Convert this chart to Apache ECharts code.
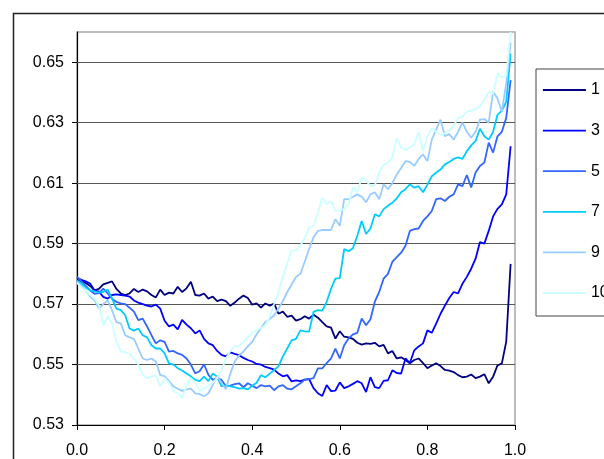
<!DOCTYPE html>
<html>
<head>
<meta charset="utf-8">
<script src="https://cdn.jsdelivr.net/npm/echarts@6/dist/echarts.min.js"></script>
<style>html,body{margin:0;padding:0;background:#fff}#c{width:604px;height:459px}</style>
</head>
<body>
<div id="c"></div>
<script>
const seriesNames = ["1", "3", "5", "7", "9", "10"];
const seriesColors = ["#000080", "#0000FF", "#3366FF", "#00CCFF", "#99CCFF", "#CCFFFF"];
const xValues = [0.00,0.01,0.02,0.03,0.04,0.05,0.06,0.07,0.08,0.09,0.10,0.11,0.12,0.13,0.14,0.15,0.16,0.17,0.18,0.19,0.20,0.21,0.22,0.23,0.24,0.25,0.26,0.27,0.28,0.29,0.30,0.31,0.32,0.33,0.34,0.35,0.36,0.37,0.38,0.39,0.40,0.41,0.42,0.43,0.44,0.45,0.46,0.47,0.48,0.49,0.50,0.51,0.52,0.53,0.54,0.55,0.56,0.57,0.58,0.59,0.60,0.61,0.62,0.63,0.64,0.65,0.66,0.67,0.68,0.69,0.70,0.71,0.72,0.73,0.74,0.75,0.76,0.77,0.78,0.79,0.80,0.81,0.82,0.83,0.84,0.85,0.86,0.87,0.88,0.89,0.90,0.91,0.92,0.93,0.94,0.95,0.96,0.97,0.98,0.99];
const s1 = [0.5780,0.5775,0.5770,0.5760,0.5745,0.5750,0.5765,0.5770,0.5775,0.5750,0.5735,0.5730,0.5735,0.5750,0.5740,0.5748,0.5742,0.5730,0.5722,0.5748,0.5730,0.5738,0.5735,0.5757,0.5740,0.5752,0.5774,0.5730,0.5728,0.5735,0.5718,0.5725,0.5710,0.5715,0.5710,0.5694,0.5705,0.5718,0.5728,0.5720,0.5698,0.5702,0.5688,0.5702,0.5695,0.5702,0.5668,0.5675,0.5658,0.5662,0.5645,0.5650,0.5660,0.5652,0.5665,0.5655,0.5640,0.5626,0.5622,0.5586,0.5610,0.5592,0.5590,0.5585,0.5572,0.5566,0.5570,0.5568,0.5572,0.5560,0.5565,0.5537,0.5545,0.5520,0.5524,0.5515,0.5504,0.5515,0.5520,0.5505,0.5488,0.5497,0.5504,0.5495,0.5482,0.5480,0.5475,0.5465,0.5458,0.5460,0.5467,0.5455,0.5460,0.5468,0.5438,0.5460,0.5497,0.5504,0.5576,0.5833];
const s3 = [0.5787,0.5780,0.5775,0.5768,0.5745,0.5741,0.5724,0.5718,0.5730,0.5732,0.5730,0.5728,0.5725,0.5712,0.5705,0.5700,0.5695,0.5692,0.5698,0.5685,0.5645,0.5626,0.5632,0.5616,0.5648,0.5632,0.5620,0.5603,0.5613,0.5585,0.5570,0.5564,0.5545,0.5532,0.5527,0.5540,0.5535,0.5531,0.5522,0.5515,0.5510,0.5502,0.5500,0.5492,0.5488,0.5483,0.5470,0.5461,0.5465,0.5444,0.5448,0.5445,0.5450,0.5452,0.5422,0.5405,0.5396,0.5432,0.5412,0.5414,0.5441,0.5422,0.5428,0.5436,0.5445,0.5438,0.5409,0.5458,0.5425,0.5422,0.5446,0.5448,0.5481,0.5472,0.5470,0.5520,0.5505,0.5547,0.5560,0.5570,0.5613,0.5605,0.5635,0.5668,0.5695,0.5720,0.5740,0.5735,0.5767,0.5790,0.5817,0.5850,0.5905,0.5900,0.5942,0.5990,0.6015,0.6030,0.6063,0.6222];
const s5 = [0.5791,0.5775,0.5760,0.5745,0.5734,0.5736,0.5751,0.5735,0.5718,0.5707,0.5702,0.5700,0.5688,0.5675,0.5647,0.5652,0.5626,0.5597,0.5570,0.5580,0.5575,0.5543,0.5545,0.5537,0.5532,0.5520,0.5500,0.5471,0.5478,0.5501,0.5466,0.5449,0.5455,0.5449,0.5428,0.5430,0.5435,0.5438,0.5425,0.5438,0.5430,0.5422,0.5432,0.5428,0.5430,0.5415,0.5428,0.5432,0.5420,0.5418,0.5428,0.5438,0.5450,0.5452,0.5455,0.5487,0.5487,0.5505,0.5520,0.5553,0.5520,0.5564,0.5586,0.5600,0.5605,0.5652,0.5630,0.5650,0.5708,0.5740,0.5784,0.5800,0.5840,0.5855,0.5870,0.5893,0.5942,0.5948,0.5950,0.5975,0.5990,0.6008,0.6047,0.6050,0.6041,0.6055,0.6063,0.6096,0.6090,0.6127,0.6086,0.6135,0.6157,0.6168,0.6234,0.6201,0.6255,0.6270,0.6316,0.6441];
const s7 = [0.5778,0.5768,0.5755,0.5745,0.5742,0.5738,0.5740,0.5748,0.5718,0.5685,0.5680,0.5663,0.5619,0.5612,0.5619,0.5597,0.5590,0.5564,0.5553,0.5553,0.5537,0.5504,0.5500,0.5488,0.5480,0.5470,0.5461,0.5449,0.5445,0.5460,0.5445,0.5470,0.5460,0.5428,0.5432,0.5428,0.5425,0.5420,0.5422,0.5418,0.5430,0.5440,0.5465,0.5458,0.5470,0.5482,0.5494,0.5527,0.5553,0.5580,0.5585,0.5613,0.5610,0.5609,0.5674,0.5680,0.5678,0.5707,0.5751,0.5784,0.5786,0.5882,0.5875,0.5885,0.5926,0.5975,0.5932,0.5950,0.5997,0.5990,0.6014,0.6025,0.6035,0.6050,0.6070,0.6080,0.6096,0.6085,0.6090,0.6070,0.6095,0.6123,0.6135,0.6145,0.6162,0.6170,0.6180,0.6185,0.6180,0.6206,0.6225,0.6240,0.6280,0.6255,0.6244,0.6270,0.6326,0.6340,0.6370,0.6529];
const s9 = [0.5774,0.5760,0.5745,0.5725,0.5712,0.5685,0.5700,0.5712,0.5680,0.5640,0.5636,0.5597,0.5590,0.5585,0.5553,0.5520,0.5515,0.5520,0.5510,0.5465,0.5462,0.5445,0.5428,0.5420,0.5413,0.5418,0.5420,0.5405,0.5402,0.5395,0.5405,0.5433,0.5461,0.5440,0.5418,0.5470,0.5510,0.5530,0.5543,0.5560,0.5575,0.5600,0.5620,0.5641,0.5650,0.5663,0.5685,0.5710,0.5740,0.5765,0.5790,0.5800,0.5840,0.5882,0.5921,0.5942,0.5945,0.5945,0.5945,0.5981,0.5959,0.6047,0.6047,0.6055,0.6063,0.6055,0.6037,0.6063,0.6070,0.6047,0.6096,0.6080,0.6100,0.6129,0.6150,0.6173,0.6170,0.6157,0.6180,0.6195,0.6173,0.6244,0.6277,0.6310,0.6255,0.6262,0.6244,0.6270,0.6300,0.6270,0.6250,0.6270,0.6310,0.6312,0.6300,0.6403,0.6380,0.6337,0.6430,0.6565];
const s10 = [0.5770,0.5755,0.5745,0.5730,0.5718,0.5696,0.5630,0.5660,0.5636,0.5576,0.5543,0.5540,0.5535,0.5520,0.5500,0.5465,0.5455,0.5460,0.5465,0.5428,0.5455,0.5440,0.5412,0.5405,0.5389,0.5430,0.5455,0.5440,0.5412,0.5420,0.5430,0.5440,0.5455,0.5480,0.5520,0.5545,0.5560,0.5562,0.5575,0.5590,0.5605,0.5615,0.5620,0.5630,0.5658,0.5700,0.5740,0.5790,0.5835,0.5877,0.5877,0.5893,0.5920,0.5954,0.5960,0.6000,0.6053,0.6030,0.6040,0.6008,0.6010,0.6015,0.6030,0.6086,0.6070,0.6119,0.6110,0.6090,0.6092,0.6135,0.6160,0.6168,0.6185,0.6249,0.6218,0.6210,0.6218,0.6228,0.6271,0.6206,0.6255,0.6282,0.6270,0.6260,0.6265,0.6275,0.6290,0.6316,0.6320,0.6337,0.6340,0.6345,0.6354,0.6375,0.6403,0.6395,0.6464,0.6450,0.6455,0.6600];
const yGridValues = [0.55, 0.57, 0.59, 0.61, 0.63, 0.65];

const allSeries = [s1, s3, s5, s7, s9, s10];
const chart = echarts.init(document.getElementById('c'), null, {renderer: 'canvas'});
const series = allSeries.map((vals, i) => {
  const s = {
    name: seriesNames[i],
    type: 'line',
    data: xValues.map((x, k) => [x, vals[k]]),
    symbol: 'none',
    showSymbol: false,
    lineStyle: {color: seriesColors[i], width: 1.8},
    itemStyle: {color: seriesColors[i]},
    z: 3
  };
  if (i === 0) {
    s.markLine = {
      silent: true,
      symbol: ['none', 'none'],
      label: {show: false},
      z: 1,
      animation: false,
      lineStyle: {color: '#555', type: 'solid', width: 1},
      data: yGridValues.map(v => ({yAxis: v}))
    };
  }
  return s;
});

chart.setOption({
  animation: false,
  backgroundColor: '#fff',
  graphic: [{
    type: 'rect', left: 11, top: 11, silent: true, z: 0,
    shape: {width: 640, height: 480},
    style: {fill: 'none', stroke: '#222', lineWidth: 1.5}
  }],
  grid: {left: 77, right: 89, top: 32, bottom: 32, show: true, borderColor: '#a8a8a8', borderWidth: 1.5, backgroundColor: 'transparent'},
  legend: {
    orient: 'vertical',
    left: 536, top: 69,
    padding: [13, 40, 15, 6],
    itemWidth: 43, itemHeight: 16, itemGap: 24.6,
    borderColor: '#444', borderWidth: 1, backgroundColor: '#fff',
    data: seriesNames,
    itemStyle: {opacity: 0},
    lineStyle: {width: 1.8},
    textStyle: {fontFamily: 'Liberation Sans, Arial, sans-serif', fontSize: 16, color: '#000', lineHeight: 16}
  },
  xAxis: {
    type: 'value', min: 0, max: 1, interval: 0.2,
    axisLine: {show: true, onZero: false, lineStyle: {color: '#000', width: 1.2}},
    axisTick: {show: true, length: 5, lineStyle: {color: '#000'}},
    splitLine: {show: false},
    axisLabel: {margin: 18, fontFamily: 'Liberation Sans, Arial, sans-serif', fontSize: 16, color: '#000', formatter: v => v.toFixed(1)}
  },
  yAxis: {
    type: 'value', min: 0.53, max: 0.66, interval: 0.02,
    axisLine: {show: true, lineStyle: {color: '#000', width: 1.2}},
    axisTick: {show: true, length: 5, lineStyle: {color: '#000'}},
    splitLine: {show: false},
    axisLabel: {margin: 13, showMaxLabel: false, fontFamily: 'Liberation Sans, Arial, sans-serif', fontSize: 16, color: '#000', formatter: v => v.toFixed(2)}
  },
  series: series
});
</script>
</body>
</html>
